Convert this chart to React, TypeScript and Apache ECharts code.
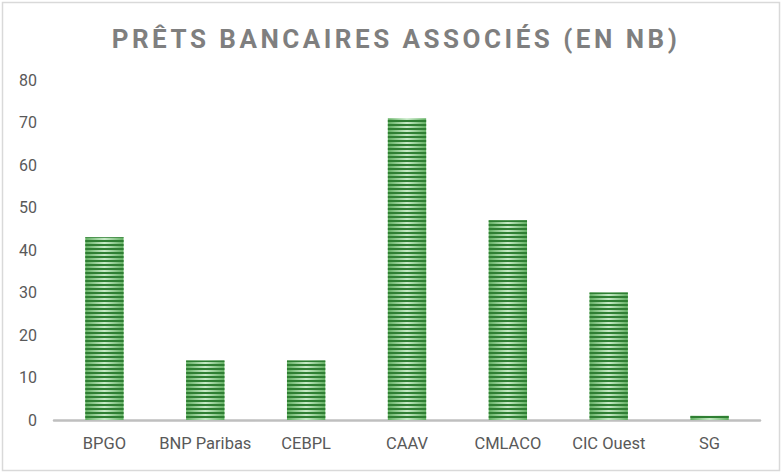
import React, { useEffect, useRef } from "react";
import * as echarts from "echarts";

const TITLE = "PRÊTS BANCAIRES ASSOCIÉS (EN NB)";
const categories = ["BPGO", "BNP Paribas", "CEBPL", "CAAV", "CMLACO", "CIC Ouest", "SG"];
const values = [43, 14, 14, 71, 47, 30, 1];
const yTicks = { min: 0, max: 80, interval: 10 };

export default function App() {
  const ref = useRef<HTMLDivElement>(null);
  useEffect(() => {
    if (!ref.current) return;
    const el = ref.current;
    const chart = echarts.init(el, null, { renderer: "svg" });
    const spaceTitle = () => {
      el.querySelectorAll("svg text").forEach((t) => {
        if (t.textContent === TITLE) t.setAttribute("letter-spacing", "3.5px");
      });
    };
    chart.on("finished", spaceTitle);
    chart.setOption({
      animation: false,
      backgroundColor: "#ffffff",
      title: {
        text: TITLE,
        left: 391,
        textAlign: "center",
        top: 21,
        textStyle: {
          fontFamily: "Roboto",
          fontWeight: "bold",
          fontSize: 26,
          color: "#7f7f7f",
        },
      },
      graphic: [
        {
          type: "rect",
          shape: { x: 2.5, y: 2.5, width: 777, height: 468 },
          style: { fill: "none", stroke: "#d9d9d9", lineWidth: 1.5 },
          silent: true,
        },
      ],
      grid: { left: 54, right: 22, top: 80, bottom: 54, containLabel: false },
      xAxis: {
        type: "category",
        data: categories,
        axisLine: { lineStyle: { color: "#bfbfbf", width: 2.5 } },
        axisTick: { show: false },
        axisLabel: {
          interval: 0,
          color: "#595959",
          fontFamily: "Roboto",
          fontSize: 16.5,
          margin: 15,
        },
      },
      yAxis: {
        type: "value",
        min: yTicks.min,
        max: yTicks.max,
        interval: yTicks.interval,
        splitLine: { show: false },
        axisLine: { show: false },
        axisTick: { show: false },
        axisLabel: {
          color: "#595959",
          fontFamily: "Roboto",
          fontSize: 16,
          margin: 17,
        },
      },
      series: [
        {
          type: "bar",
          data: values,
          barWidth: "38%",
          itemStyle: {
            color: {
              type: "linear",
              x: 0,
              y: 0,
              x2: 1,
              y2: 0,
              colorStops: [
                { offset: 0, color: "#62b062" },
                { offset: 0.5, color: "#c8eac8" },
                { offset: 1, color: "#62b062" },
              ],
            },
            decal: {
              symbol: "rect",
              symbolSize: 1,
              color: "#2f7f33",
              dashArrayX: [1, 0],
              dashArrayY: [2, 2],
              rotation: 0,
            },
          },
        },
      ],
    });
    spaceTitle();
    const raf = requestAnimationFrame(spaceTitle);
    const to = setTimeout(spaceTitle, 50);
    return () => {
      cancelAnimationFrame(raf);
      clearTimeout(to);
      chart.dispose();
    };
  }, []);
  return (
    <div
      ref={ref}
      style={{ position: "fixed", left: 0, top: 0, width: 782, height: 474 }}
    />
  );
}
